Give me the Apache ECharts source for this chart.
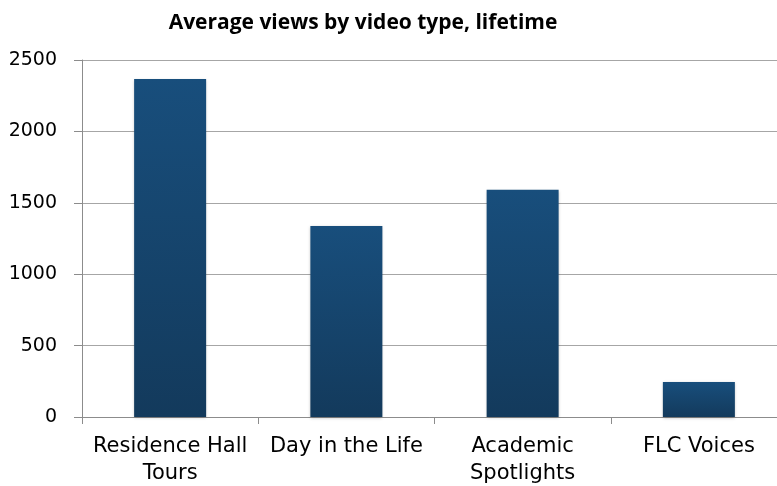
<!DOCTYPE html>
<html>
<head>
<meta charset="utf-8">
<title>Average views by video type</title>
<script src="https://cdn.jsdelivr.net/npm/echarts@6/dist/echarts.min.js"></script>
<style>
  html, body { margin: 0; padding: 0; background: #fff; }
  #chart { width: 777px; height: 486px; }
</style>
</head>
<body>
<div id="chart"></div>
<script>
// data
var categories = ['Residence Hall\nTours', 'Day in the Life', 'Academic\nSpotlights', 'FLC Voices'];
var avgViews = [2367, 1337, 1592, 245];
var yTicks = [0, 500, 1000, 1500, 2000, 2500];

var myChart = echarts.init(document.getElementById('chart'));

var option = {
  animation: false,
  title: {
    text: 'Average views by video type, lifetime',
    left: 358,
    textAlign: 'center',
    top: 8,
    textStyle: { fontFamily: 'Open Sans', fontWeight: 'bold', fontSize: 21, color: '#000' }
  },
  grid: { left: 82, top: 60, right: -10, bottom: 69, containLabel: false, outerBoundsMode: 'none' },
  xAxis: {
    type: 'category',
    data: categories,
    axisLine: { lineStyle: { color: '#8c8c8c', width: 1 } },
    axisTick: { show: true, length: 7, lineStyle: { color: '#8c8c8c' } },
    axisLabel: {
      interval: 0,
      margin: 16,
      fontFamily: 'DejaVu Sans',
      fontSize: 21,
      color: '#000',
      lineHeight: 27
    }
  },
  yAxis: {
    type: 'value',
    min: yTicks[0],
    max: yTicks[yTicks.length - 1],
    interval: 500,
    axisLine: { show: true, lineStyle: { color: '#8c8c8c', width: 1 } },
    axisTick: { show: true, length: 8, lineStyle: { color: '#8c8c8c' } },
    splitLine: { lineStyle: { color: '#a6a6a6', width: 1 } },
    axisLabel: {
      margin: 25,
      fontFamily: 'DejaVu Sans',
      fontSize: 19,
      color: '#000',
      formatter: function (v) { return String(v); }
    }
  },
  series: [{
    type: 'bar',
    data: avgViews,
    barWidth: 72,
    itemStyle: {
      color: new echarts.graphic.LinearGradient(0, 0, 0, 1, [
        { offset: 0, color: '#184e7c' },
        { offset: 1, color: '#133a5c' }
      ]),
      shadowColor: 'rgba(0,0,0,0.25)',
      shadowBlur: 3,
      shadowOffsetX: 0,
      shadowOffsetY: 1
    }
  }]
};

option && myChart.setOption(option);
</script>
</body>
</html>
